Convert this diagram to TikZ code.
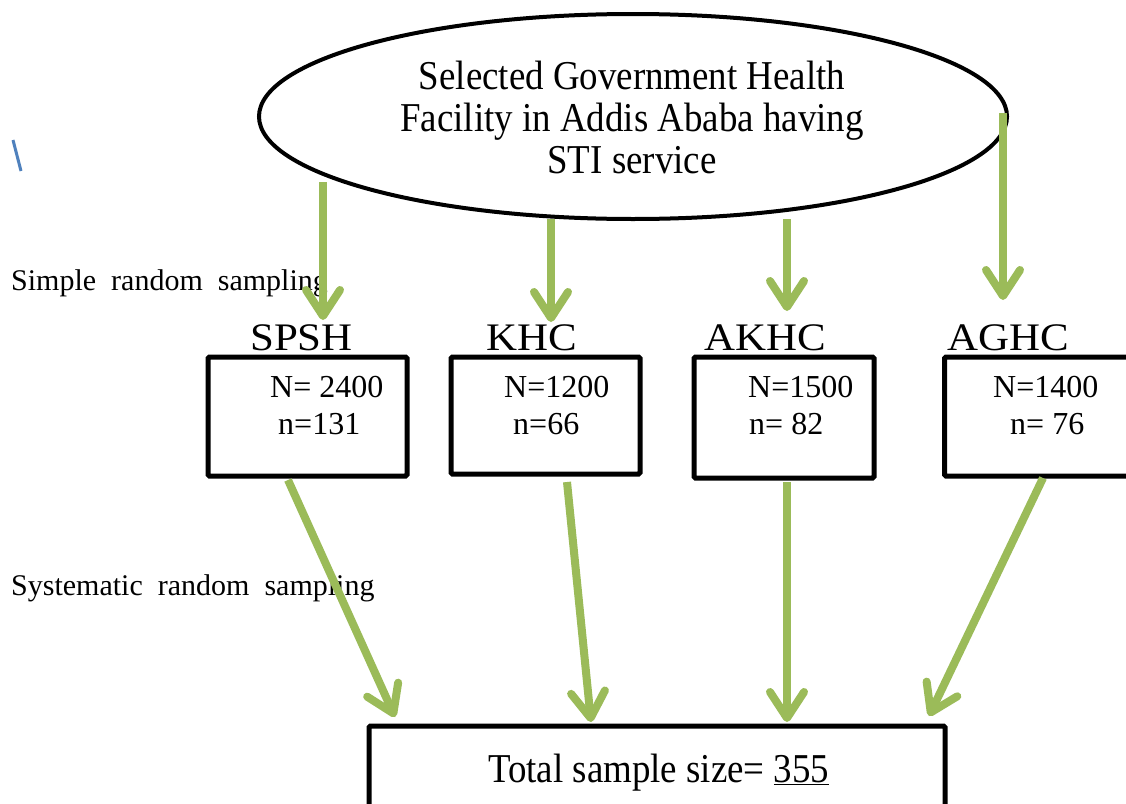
\documentclass[tikz,border=0pt]{standalone}
\usepackage{fontspec}
\setmainfont{Liberation Serif}
\newfontfamily\narrowserif[FakeStretch=0.9]{Liberation Serif}
\newfontfamily\wideserif[FakeStretch=1.1]{Liberation Serif}
\usetikzlibrary{arrows.meta,shapes.geometric}
\definecolor{grn}{HTML}{9BBB59}
\definecolor{blu}{HTML}{4F81BD}
\begin{document}
\begin{tikzpicture}[x=1pt,y=-1pt,
  arr/.style={draw=grn, line width=8pt, -{Straight Barb[length=26pt,width=34pt,line cap=round,line join=round]}},
  stepbox/.style={draw, line width=5pt, rounded corners=1.5pt, inner sep=0pt, rectangle},
  lbl/.style={anchor=base west, inner sep=0pt, font=\wideserif\fontsize{39}{46}\selectfont},
  num/.style={anchor=base west, inner sep=0pt, font=\fontsize{32}{38}\selectfont},
  side/.style={anchor=base west, inner sep=0pt, font=\fontsize{30}{36}\selectfont}]
\clip (0,0) rectangle (1126,803);
\fill[white] (0,0) rectangle (1126,803);
% top ellipse
\node[ellipse, draw, line width=4pt, minimum width=748pt, minimum height=205pt, inner sep=0pt] (ell) at (633,116.5) {};
\node[align=center, inner sep=0pt, font=\narrowserif\fontsize{41}{42}\selectfont] (elltxt) at (632,117) {Selected Government Health\\Facility in Addis Ababa having\\STI service};
% stray mark
\coordinate (m1) at (13,140);
\coordinate (m2) at (21,171);
\draw[blu, line width=3pt] (m1) -- (m2);
% side labels
\node[side] (simple) at (11,290) {Simple\ \ random\ \ sampling};
\node[side] (system) at (11,595) {Systematic\ \ random\ \ sampling};
% boxes
\node[stepbox, minimum width=199pt, minimum height=119pt] (b1) at (307.5,416.5) {};
\node[stepbox, minimum width=189pt, minimum height=117pt] (b2) at (545.5,415.5) {};
\node[stepbox, minimum width=180pt, minimum height=121pt] (b3) at (784,417.5) {};
\node[stepbox, minimum width=195pt, minimum height=119pt] (b4) at (1042,416.5) {};
\node[stepbox, minimum width=576pt, minimum height=124pt] (tot) at (657,788) {};
% box labels
\node[lbl] (l1) at (250,350) {SPSH};
\node[lbl] (l2) at (486,350) {KHC};
\node[lbl] (l3) at (704,350) {AKHC};
\node[lbl] (l4) at (947,350) {AGHC};
% numbers
\node[num] (n1a) at (270,397) {N= 2400};
\node[num] (n1b) at (278,434) {n=131};
\node[num] (n2a) at (504,397) {N=1200};
\node[num] (n2b) at (513,434) {n=66};
\node[num] (n3a) at (748,397) {N=1500};
\node[num] (n3b) at (749,434) {n= 82};
\node[num] (n4a) at (993,397) {N=1400};
\node[num] (n4b) at (1010,434) {n= 76};
\node[anchor=base west, inner sep=0pt, font=\narrowserif\fontsize{41}{48}\selectfont] (tottxt) at (488,782) {Total sample size= \underline{355}};
% top arrows
\coordinate (a1s) at (323,182); \coordinate (a1t) at (323,320);
\coordinate (a2s) at (551,219); \coordinate (a2t) at (551,322);
\coordinate (a3s) at (787,219); \coordinate (a3t) at (787,311);
\coordinate (a4s) at (1003,113); \coordinate (a4t) at (1003,300);
\draw[arr] (a1s) -- (a1t);
\draw[arr] (a2s) -- (a2t);
\draw[arr] (a3s) -- (a3t);
\draw[arr] (a4s) -- (a4t);
% bottom arrows
\coordinate (c1s) at (288,480); \coordinate (c1t) at (395,717);
\coordinate (c2s) at (567,482); \coordinate (c2t) at (591,722);
\coordinate (c3s) at (787,482); \coordinate (c3t) at (787,722);
\coordinate (c4s) at (1043,478); \coordinate (c4t) at (929,716);
\draw[arr] (c1s) -- (c1t);
\draw[arr] (c2s) -- (c2t);
\draw[arr] (c3s) -- (c3t);
\draw[arr] (c4s) -- (c4t);
\end{tikzpicture}
\end{document}
